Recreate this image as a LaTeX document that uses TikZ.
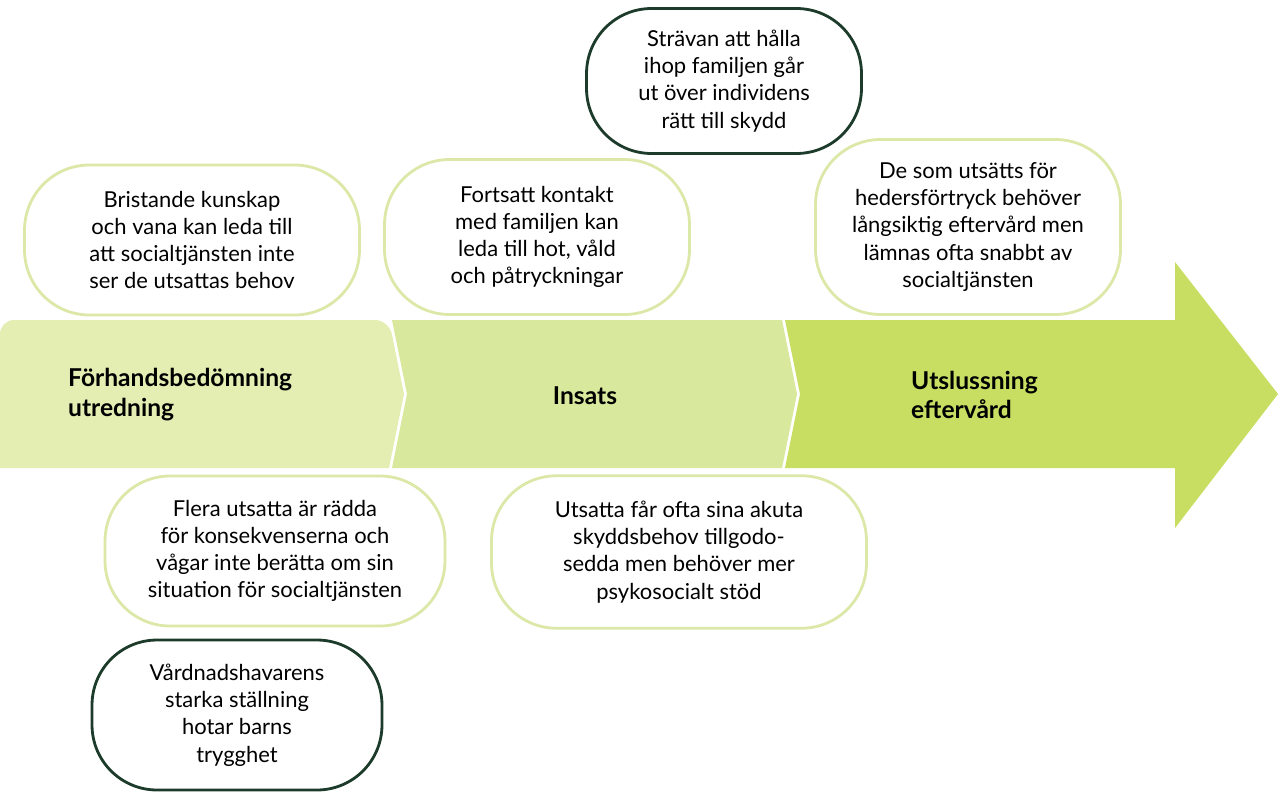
\documentclass[tikz,border=0pt]{standalone}
\usepackage{fontspec}
\setmainfont{Lato}
\definecolor{stepA}{HTML}{E4EEB3}
\definecolor{stepB}{HTML}{D8E89C}
\definecolor{stepC}{HTML}{C8DE62}
\definecolor{lightrim}{HTML}{DCE8A8}
\definecolor{darkrim}{HTML}{1D3B2A}
\tikzset{
  bubble/.style={draw=lightrim, line width=1.6pt, fill=white, rounded corners=1.3cm,
    align=center, font=\fontsize{12.5}{15.5}\selectfont, inner sep=0pt},
  darkbubble/.style={bubble, draw=darkrim},
  stage/.style={font=\bfseries\fontsize{14}{17}\selectfont, align=left}
}
\begin{document}
\begin{tikzpicture}[x=0.02cm,y=-0.02cm]
  \useasboundingbox (0,0) rectangle (1280,794);
  % pil
  \fill[stepC] (785,320) -- (1175,320) -- (1175,262) -- (1278,394) -- (1175,528)
    -- (1175,468) -- (785,468) -- (800,394) -- cycle;
  \fill[stepB] (392,320) -- (782,320) -- (797,394) -- (782,468) -- (392,468)
    -- (407,394) -- cycle;
  \fill[stepA, rounded corners=8pt] (0,468) -- (0,320) -- (389,320)
    [sharp corners] -- (404,394) -- (389,468) -- cycle;
  \node[stage, anchor=west] (forhand) at (62,395) {Förhandsbedömning\\utredning};
  \node[stage] (insats) at (585,396) {Insats};
  \node[stage, anchor=west] (utsluss) at (905,395) {Utslussning\\eftervård};
  % bubblor
  \node[bubble, minimum width=6.7cm, minimum height=3cm] (kunskap) at (192,240)
    {Bristande kunskap\\och vana kan leda till\\att socialtjänsten inte\\ser de utsattas behov};
  \node[bubble, minimum width=6.1cm, minimum height=3.1cm] (kontakt) at (537,237)
    {Fortsatt kontakt\\med familjen kan\\leda till hot, våld\\och påtryckningar};
  \node[darkbubble, minimum width=5.5cm, minimum height=2.9cm] (familjen) at (724,81)
    {Strävan att hålla\\ihop familjen går\\ut över individens\\rätt till skydd};
  \node[bubble, minimum width=6.1cm, minimum height=3.5cm] (eftervard) at (968,227)
    {De som utsätts för\\hedersförtryck behöver\\långsiktig eftervård men\\lämnas ofta snabbt av\\socialtjänsten};
  \node[bubble, minimum width=6.8cm, minimum height=3cm] (radda) at (275,551)
    {Flera utsatta är rädda\\för konsekvenserna och\\vågar inte berätta om sin\\situation för socialtjänsten};
  \node[bubble, minimum width=7.5cm, minimum height=3.05cm] (skydd) at (679,552)
    {Utsatta får ofta sina akuta\\skyddsbehov tillgodo-\\sedda men behöver mer\\psykosocialt stöd};
  \node[darkbubble, minimum width=5.8cm, minimum height=3cm] (vardnad) at (237,715)
    {Vårdnadshavarens\\starka ställning\\hotar barns\\trygghet};
\end{tikzpicture}
\end{document}
